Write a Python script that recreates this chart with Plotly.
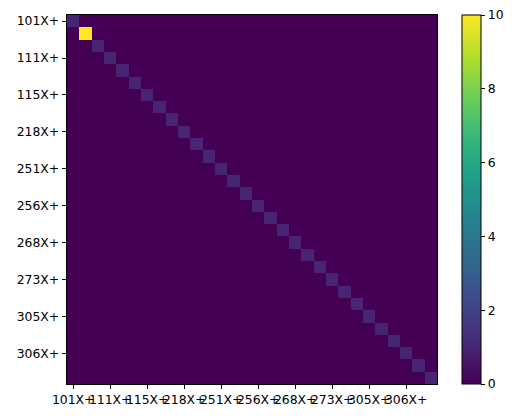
import numpy as np
import plotly.graph_objects as go

categories = [
    "101X+", "104X+", "108X+", "111X+", "112X+", "114X+", "115X+", "201X+",
    "210X+", "218X+", "230X+", "245X+", "251X+", "253X+", "255X+", "256X+",
    "260X+", "265X+", "268X+", "270X+", "272X+", "273X+", "290X+", "300X+",
    "305X+", "305A+", "305B+", "306X+", "307X+", "308X+",
]
diag_values = [1, 10] + [1] * 28
tick_labels = categories[::3]

n = len(categories)
z = np.zeros((n, n))
for i, v in enumerate(diag_values):
    z[i, i] = v

font = dict(family="DejaVu Sans", size=12.4, color="black")

fig = go.Figure(
    go.Heatmap(
        z=z,
        x=categories,
        y=categories,
        colorscale="Viridis",
        zmin=0,
        zmax=10,
        colorbar=dict(
            x=(462 - 67) / 370,
            xanchor="left",
            xpad=0,
            ypad=0,
            thickness=19,
            len=1,
            lenmode="fraction",
            y=0.5,
            yanchor="middle",
            outlinecolor="black",
            outlinewidth=1,
            ticks="outside",
            ticklen=4.3,
            tickwidth=0.8,
            tickcolor="black",
            tickvals=[0, 2, 4, 6, 8, 10],
            tickfont=font,
        ),
    )
)

axis_common = dict(
    showgrid=False,
    zeroline=False,
    showline=True,
    mirror=True,
    linecolor="black",
    linewidth=1,
    ticks="outside",
    ticklen=4.3,
    tickwidth=0.8,
    tickcolor="black",
    tickfont=font,
    tickvals=tick_labels,
    ticktext=tick_labels,
    tickangle=0,
)

fig.update_xaxes(**axis_common)
fig.update_yaxes(**axis_common, autorange="reversed")

fig.update_layout(
    width=517,
    height=418,
    margin=dict(l=67, r=80, t=15, b=34),
    paper_bgcolor="white",
    plot_bgcolor="white",
    font=font,
)

fig.write_html(
    "out.html",
    config={"displayModeBar": False},
    post_script="document.body.style.margin='0';",
)
